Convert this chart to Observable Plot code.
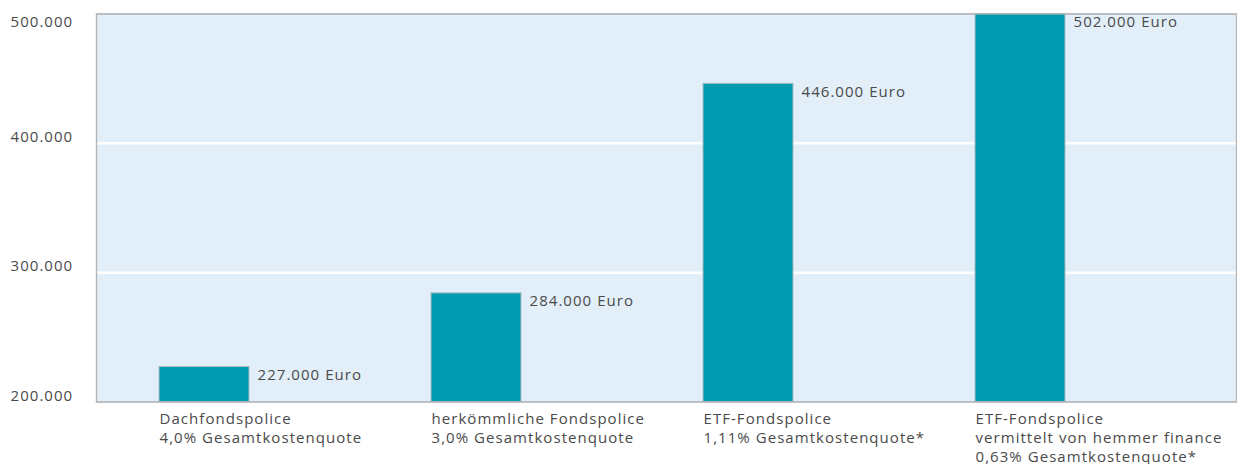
<!DOCTYPE html>
<html>
<head>
<meta charset="utf-8">
<script src="https://cdn.jsdelivr.net/npm/d3@7"></script>
<script src="https://cdn.jsdelivr.net/npm/@observablehq/plot@0.6"></script>
<style>
  html, body { margin: 0; padding: 0; background: #ffffff; }
  #chart svg { display: block; }
  #chart svg text { letter-spacing: 1.05px; }
</style>
</head>
<body>
<div id="chart"></div>
<script>
const categories = [
  "Dachfondspolice\n4,0% Gesamtkostenquote",
  "herkömmliche Fondspolice\n3,0% Gesamtkostenquote",
  "ETF-Fondspolice\n1,11% Gesamtkostenquote*",
  "ETF-Fondspolice\nvermittelt von hemmer finance\n0,63% Gesamtkostenquote*"
];
const values = [227000, 284000, 446000, 502000];
const valueLabels = ["227.000 Euro", "284.000 Euro", "446.000 Euro", "502.000 Euro"];
const yTicks = [200000, 300000, 400000, 500000];
const yTickLabels = ["200.000", "300.000", "400.000", "500.000"];

const data = categories.map((c, i) => ({cat: c, value: values[i], label: valueLabels[i]}));
const tickData = yTicks.map((t, i) => ({t, label: yTickLabels[i]}));

const font = "'Open Sans', 'DejaVu Sans', sans-serif";

const chart = Plot.plot({
  width: 1237,
  height: 464,
  marginLeft: 96,
  marginRight: 1,
  marginTop: 13.5,
  marginBottom: 62.5,
  style: {fontFamily: font, background: "#ffffff", overflow: "visible"},
  x: {domain: categories, range: [66.75, 1156.75], paddingInner: 0.67, paddingOuter: 0.335, axis: null},
  y: {domain: [200000, 500000], clamp: true, axis: null},
  marks: [
    Plot.frame({fill: "#e2eef8", stroke: "#b4b4b4", strokeWidth: 1.2}),
    Plot.ruleY([300000, 400000], {stroke: "#ffffff", strokeWidth: 2.5}),
    Plot.barY(data, {x: "cat", y1: 200000, y2: "value", fill: "#009bb0", stroke: "#a9bcc6", strokeWidth: 1}),
    Plot.frame({stroke: "#b4b4b4", strokeWidth: 1.2}),
    Plot.text(data, {x: "cat", y: "value", text: "label", textAnchor: "start", dx: 53, dy: 8, fontSize: 15, fill: "#4a4a4a"}),
    Plot.text(tickData.filter(d => d.t === 500000), {y: "t", text: "label", frameAnchor: "left", textAnchor: "start", dx: -86, dy: 8, fontSize: 15, fill: "#4a4a4a"}),
    Plot.text(tickData.filter(d => d.t !== 500000), {y: "t", text: "label", frameAnchor: "left", textAnchor: "start", dx: -86, dy: -6, fontSize: 15, fill: "#4a4a4a"}),
    Plot.text(data, {x: "cat", text: "cat", frameAnchor: "bottom", textAnchor: "start", lineAnchor: "top", dx: -45, dy: 8, lineHeight: 1.28, fontSize: 15, fill: "#4a4a4a"})
  ]
});
document.getElementById("chart").appendChild(chart);
</script>
</body>
</html>
